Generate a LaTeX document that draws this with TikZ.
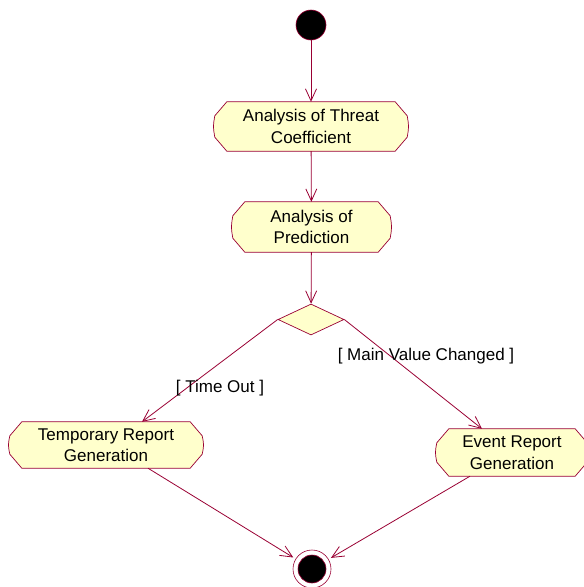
\documentclass[tikz,border=0pt]{standalone}
\usepackage{fontspec}
\setmainfont{Liberation Sans}
\usetikzlibrary{arrows.meta,shapes.geometric,calc,backgrounds}
\definecolor{umlline}{RGB}{153,0,51}
\definecolor{umlfill}{RGB}{255,255,204}

% Outline of an activity state: chamfered box with slightly bulging ends
\newcommand\actoutline[1]{%
  \draw[outline]
    ($(#1.north west)+(13pt,0pt)$) -- ($(#1.north east)+(-13pt,0pt)$)
    -- ($(#1.north east)+(-1pt,-14pt)$)
    .. controls ($(#1.east)+(0.8pt,0pt)$) .. ($(#1.south east)+(-1pt,14pt)$)
    -- ($(#1.south east)+(-13pt,0pt)$) -- ($(#1.south west)+(13pt,0pt)$)
    -- ($(#1.south west)+(1pt,14pt)$)
    .. controls ($(#1.west)+(-0.8pt,0pt)$) .. ($(#1.north west)+(1pt,-14pt)$)
    -- cycle;}

\begin{document}
\begin{tikzpicture}[x=1pt,y=-1pt,
  activity/.style={inner sep=0pt, align=center, text=black,
    font=\fontsize{17}{21.5}\selectfont},
  outline/.style={draw=umlline, fill=umlfill, line width=0.7pt},
  guard/.style={inner sep=0pt, text=black, font=\fontsize{17}{21.5}\selectfont},
  flow/.style={draw=umlline, line width=0.8pt,
    -{Straight Barb[length=12pt, width=11pt, line width=0.8pt]}}]

\useasboundingbox (0,0) rectangle (584,587);

% initial and final states
\node[circle, fill=black, draw=umlline, line width=0.6pt, minimum size=30pt,
      inner sep=0pt] (start) at (311,25) {};
\node[circle, draw=umlline, line width=0.6pt, minimum size=38pt, inner sep=0pt,
      outer sep=3pt] (endc) at (312,569) {};
\node[circle, fill=black, draw=umlline, line width=0.6pt, minimum size=28pt,
      inner sep=0pt] (endin) at (endc.center) {};

% activity states
\node[activity, minimum width=194pt, minimum height=49pt] (a1) at (311,126.5)
  {Analysis of Threat\\Coefficient};
\node[activity, minimum width=159pt, minimum height=50pt] (a2) at (311.5,227)
  {Analysis of\\Prediction};
\node[activity, minimum width=194pt, minimum height=46pt] (tr) at (106,445)
  {Temporary Report\\Generation};
\node[activity, minimum width=152pt, minimum height=47pt] (er) at (512,452.5)
  {Event Report\\Generation};

% decision
\node[diamond, draw=umlline, fill=umlfill, line width=0.7pt, inner sep=0pt,
      minimum width=66pt, minimum height=31pt, aspect=2] (dia) at (311,319.5) {};

\begin{pgfonlayer}{background}
  \foreach \n in {a1,a2,tr,er} {\actoutline{\n}}
\end{pgfonlayer}

% transitions
\draw[flow] (start) -- (a1);
\draw[flow] (a1) -- (a2);
\draw[flow] (a2) -- (dia);
\draw[flow] (dia.west) -- ($(tr.north)+(36pt,0pt)$);
\draw[flow] (dia.east) -- ($(er.north)+(-30pt,0pt)$);
\draw[flow] ($(tr.south)+(42pt,0pt)$) -- (endc);
\draw[flow] ($(er.south)+(-42pt,0pt)$) -- (endc);

% guards
\node[guard] (gto) at (220,388) {[ Time Out ]};
\node[guard] (gmv) at (426,356) {[ Main Value Changed ]};
\end{tikzpicture}
\end{document}
